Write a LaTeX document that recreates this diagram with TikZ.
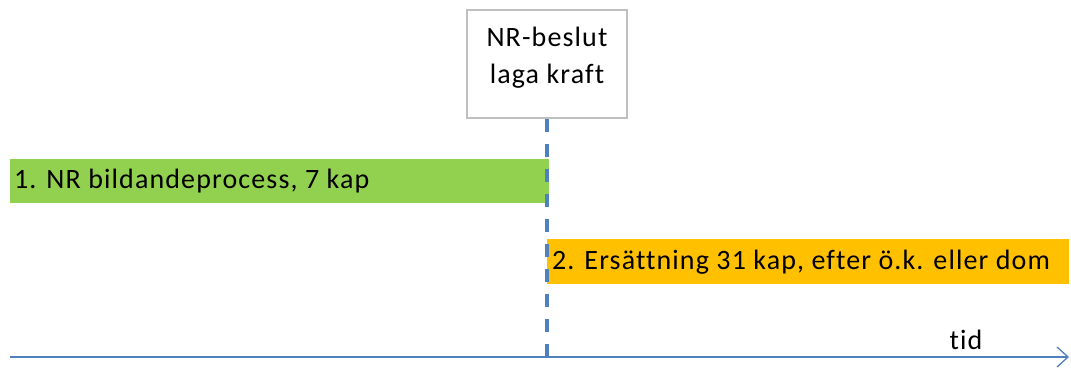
\documentclass[tikz,border=0pt]{standalone}
\usepackage{fontspec}
\setmainfont[RawFeature=-liga,LetterSpace=4]{Carlito}
\usetikzlibrary{arrows.meta}
\definecolor{ogreen}{HTML}{92D050}
\definecolor{oorange}{HTML}{FFC000}
\definecolor{oblue}{HTML}{4F81BD}
\definecolor{ogray}{HTML}{BFBFBF}
\tikzset{
  txt/.style={font=\fontsize{28}{37}\selectfont, inner sep=0pt},
  lbl/.style={txt, anchor=west},
}
\begin{document}
\begin{tikzpicture}[x=1pt,y=-1pt]
\useasboundingbox (0,0) rectangle (1071,367);
% box
\node[draw=ogray, line width=1.5pt, fill=white, minimum width=160pt, minimum height=108pt, inner sep=0pt] (box) at (547,64) {};
\node[txt, align=center] (boxt) at (547,58) {NR-beslut\\laga kraft};
% bars
\fill[ogreen] (10,159) rectangle (549,203);
\node[lbl] (t1) at (14,181) {1. NR bildandeprocess, 7 kap};
\fill[oorange] (547,239) rectangle (1069,284);
\node[lbl] (t2) at (552,262) {2. Ersättning 31 kap, efter ö.k. eller dom};
% axis
\coordinate (a0) at (10,357);
\coordinate (a1) at (1069,357);
\draw[oblue, line width=1.5pt, -{Straight Barb[length=11pt,width=20pt,line width=1.3pt]}] (a0) -- (a1);
\node[txt] (tid) at (966,340) {tid};
% dashed line
\coordinate (d1) at (box.south |- a0);
\draw[oblue, line width=3.5pt, dash pattern=on 13pt off 12pt] (box.south) -- (d1);
\end{tikzpicture}
\end{document}
